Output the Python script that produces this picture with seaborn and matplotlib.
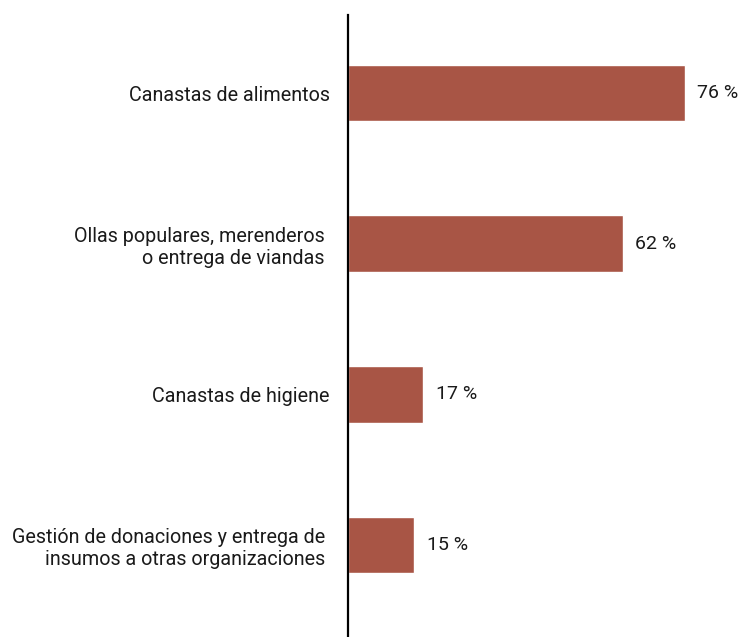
import matplotlib
matplotlib.use("Agg")
import matplotlib.pyplot as plt
import matplotlib.transforms as mtransforms
import seaborn as sns
import pandas as pd

categories = [
    "Canastas de alimentos",
    "Ollas populares, merenderos\no entrega de viandas",
    "Canastas de higiene",
    "Gestión de donaciones y entrega de\ninsumos a otras organizaciones",
]
values = [76, 62, 17, 15]
value_labels = ["76 %", "62 %", "17 %", "15 %"]

sns.set_theme(style="white")
plt.rcParams["font.family"] = ["Roboto", "DejaVu Sans"]

df = pd.DataFrame({"cat": categories, "val": values})

fig = plt.figure(figsize=(7.38, 6.37), dpi=100)
ax = fig.add_axes([348 / 738, 0, 1 - 348 / 738, (637 - 15) / 637])

sns.barplot(data=df, x="val", y="cat", orient="h", color="#A85545",
            saturation=1, width=0.375, ax=ax)

ax.set_xlim(0, 88)
ax.set_ylim(3.61, -0.518)
ax.set_xlabel("")
ax.set_ylabel("")
ax.set_xticks([])
for s in ["top", "right", "bottom"]:
    ax.spines[s].set_visible(False)
ax.spines["left"].set_color("black")
ax.spines["left"].set_linewidth(1.6)
ax.tick_params(axis="y", length=0, pad=13, labelsize=14.2, labelcolor="#1a1a1a")
for t in ax.get_yticklabels():
    t.set_horizontalalignment("right")
    t.set_multialignment("right")
    if "\n" in t.get_text():
        t.set_transform(t.get_transform() +
                        mtransforms.ScaledTranslation(-5 / 100, 0, fig.dpi_scale_trans))

ax.bar_label(ax.containers[0], labels=value_labels, padding=9,
             fontsize=14, color="#1a1a1a")

fig.savefig("out.png", dpi=100)
